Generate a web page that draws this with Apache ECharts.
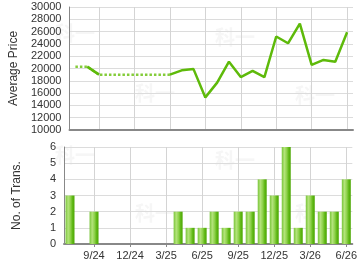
<!DOCTYPE html>
<html><head><meta charset="utf-8">
<script src="https://cdn.jsdelivr.net/npm/echarts@6/dist/echarts.min.js"></script>
<style>html,body{margin:0;padding:0;background:#fff}#c{width:360px;height:270px}</style>
</head><body><div id="c"></div>
<script>
var months = ['7/24','8/24','9/24','10/24','11/24','12/24','1/25','2/25','3/25','4/25','5/25','6/25','7/25','8/25','9/25','10/25','11/25','12/25','1/26','2/26','3/26','4/26','5/26','6/26'];
var avgPrice = [20300,20300,19000,19000,19000,19000,19000,19000,19000,19700,19900,15300,17700,21100,18600,19600,18600,25200,24100,27300,20600,21400,21100,25900];
var transactions = [3,0,2,0,0,0,0,0,0,2,1,1,2,1,2,2,4,3,6,1,3,2,2,4];
var priceTicks = {min:10000, max:30000, step:2000};
var transTicks = {min:0, max:6, step:1};

// segment i-1 -> i is dotted when month i has no transactions
var solid = avgPrice.map(function(){return null;});
var dotted = avgPrice.map(function(){return null;});
for (var i = 1; i < avgPrice.length; i++) {
  var tgt = transactions[i] === 0 ? dotted : solid;
  tgt[i-1] = avgPrice[i-1]; tgt[i] = avgPrice[i];
}
var showIdx = function(i){ return i % 3 === 2; };
var font = '"Liberation Sans", Arial, sans-serif';
var chart = echarts.init(document.getElementById('c'), null, {renderer:'canvas'});
var wm = [];
[[55,23],[135,83],[215,27],[295,85],[55,145],[135,203],[215,150],[295,203]].forEach(function(p){
  wm.push({type:'text', left:p[0], top:p[1], z:-10, style:{text:'科一', font:'bold 20px "Noto Sans CJK SC"', fill:'#f6f6f6'}});
});
var bottomGrad = new echarts.graphic.LinearGradient(0,0,1,0,[
  {offset:0,color:'#79c53a'},{offset:0.3,color:'#b3e37a'},{offset:0.55,color:'#8fd24c'},{offset:0.8,color:'#5bb510'},{offset:1,color:'#4fa808'}]);
var plain = function(v){ return String(v); };
chart.setOption({
  animation:false,
  graphic: wm,
  grid:[{left:64,right:7,top:7,height:123},{left:64,right:7,top:147,height:97}],
  xAxis:[
    {type:'category', gridIndex:0, data:months, boundaryGap:true,
     axisLine:{show:true, lineStyle:{color:'#888', width:2}}, axisTick:{show:false}, axisLabel:{show:false},
     splitLine:{show:true, interval:function(i){return showIdx(i);}, alignWithLabel:true, lineStyle:{color:'#d4d4d4'}}},
    {type:'category', gridIndex:1, data:months, boundaryGap:true,
     axisLine:{show:true, lineStyle:{color:'#888', width:2}},
     axisTick:{show:true, alignWithLabel:true, interval:function(i){return showIdx(i);}, length:3, lineStyle:{color:'#888'}},
     axisLabel:{interval:function(i){return showIdx(i);}, fontSize:11, color:'#333', fontFamily:font, margin:6},
     splitLine:{show:true, interval:function(i){return showIdx(i);}, alignWithLabel:true, lineStyle:{color:'#d4d4d4'}}}
  ],
  yAxis:[
    {type:'value', gridIndex:0, min:priceTicks.min, max:priceTicks.max, interval:priceTicks.step,
     name:'Average Price', nameLocation:'middle', nameGap:43, nameTextStyle:{fontSize:12, color:'#333', fontFamily:font},
     axisLine:{show:true, lineStyle:{color:'#888'}}, axisTick:{show:false},
     axisLabel:{fontSize:11, color:'#333', fontFamily:font, margin:8, formatter:plain},
     splitLine:{lineStyle:{color:'#dcdcdc'}}},
    {type:'value', gridIndex:1, min:transTicks.min, max:transTicks.max, interval:transTicks.step,
     name:'No. of Trans.', nameLocation:'middle', nameGap:41, nameTextStyle:{fontSize:12, color:'#333', fontFamily:font},
     axisLine:{show:true, lineStyle:{color:'#888'}}, axisTick:{show:false},
     axisLabel:{fontSize:11, color:'#333', fontFamily:font, margin:8, formatter:plain},
     splitLine:{lineStyle:{color:'#dcdcdc'}}}
  ],
  series:[
    {type:'line', xAxisIndex:0, yAxisIndex:0, data:dotted, showSymbol:false, connectNulls:false,
     lineStyle:{color:'#84cc3a', width:2.5, type:[2.5,2]}},
    {type:'line', xAxisIndex:0, yAxisIndex:0, data:solid, showSymbol:false, connectNulls:false,
     lineStyle:{color:'#5eba0a', width:2.5}},
    {type:'bar', xAxisIndex:1, yAxisIndex:1, data:transactions, barWidth:9,
     itemStyle:{color:bottomGrad}}
  ]
});
</script></body></html>
